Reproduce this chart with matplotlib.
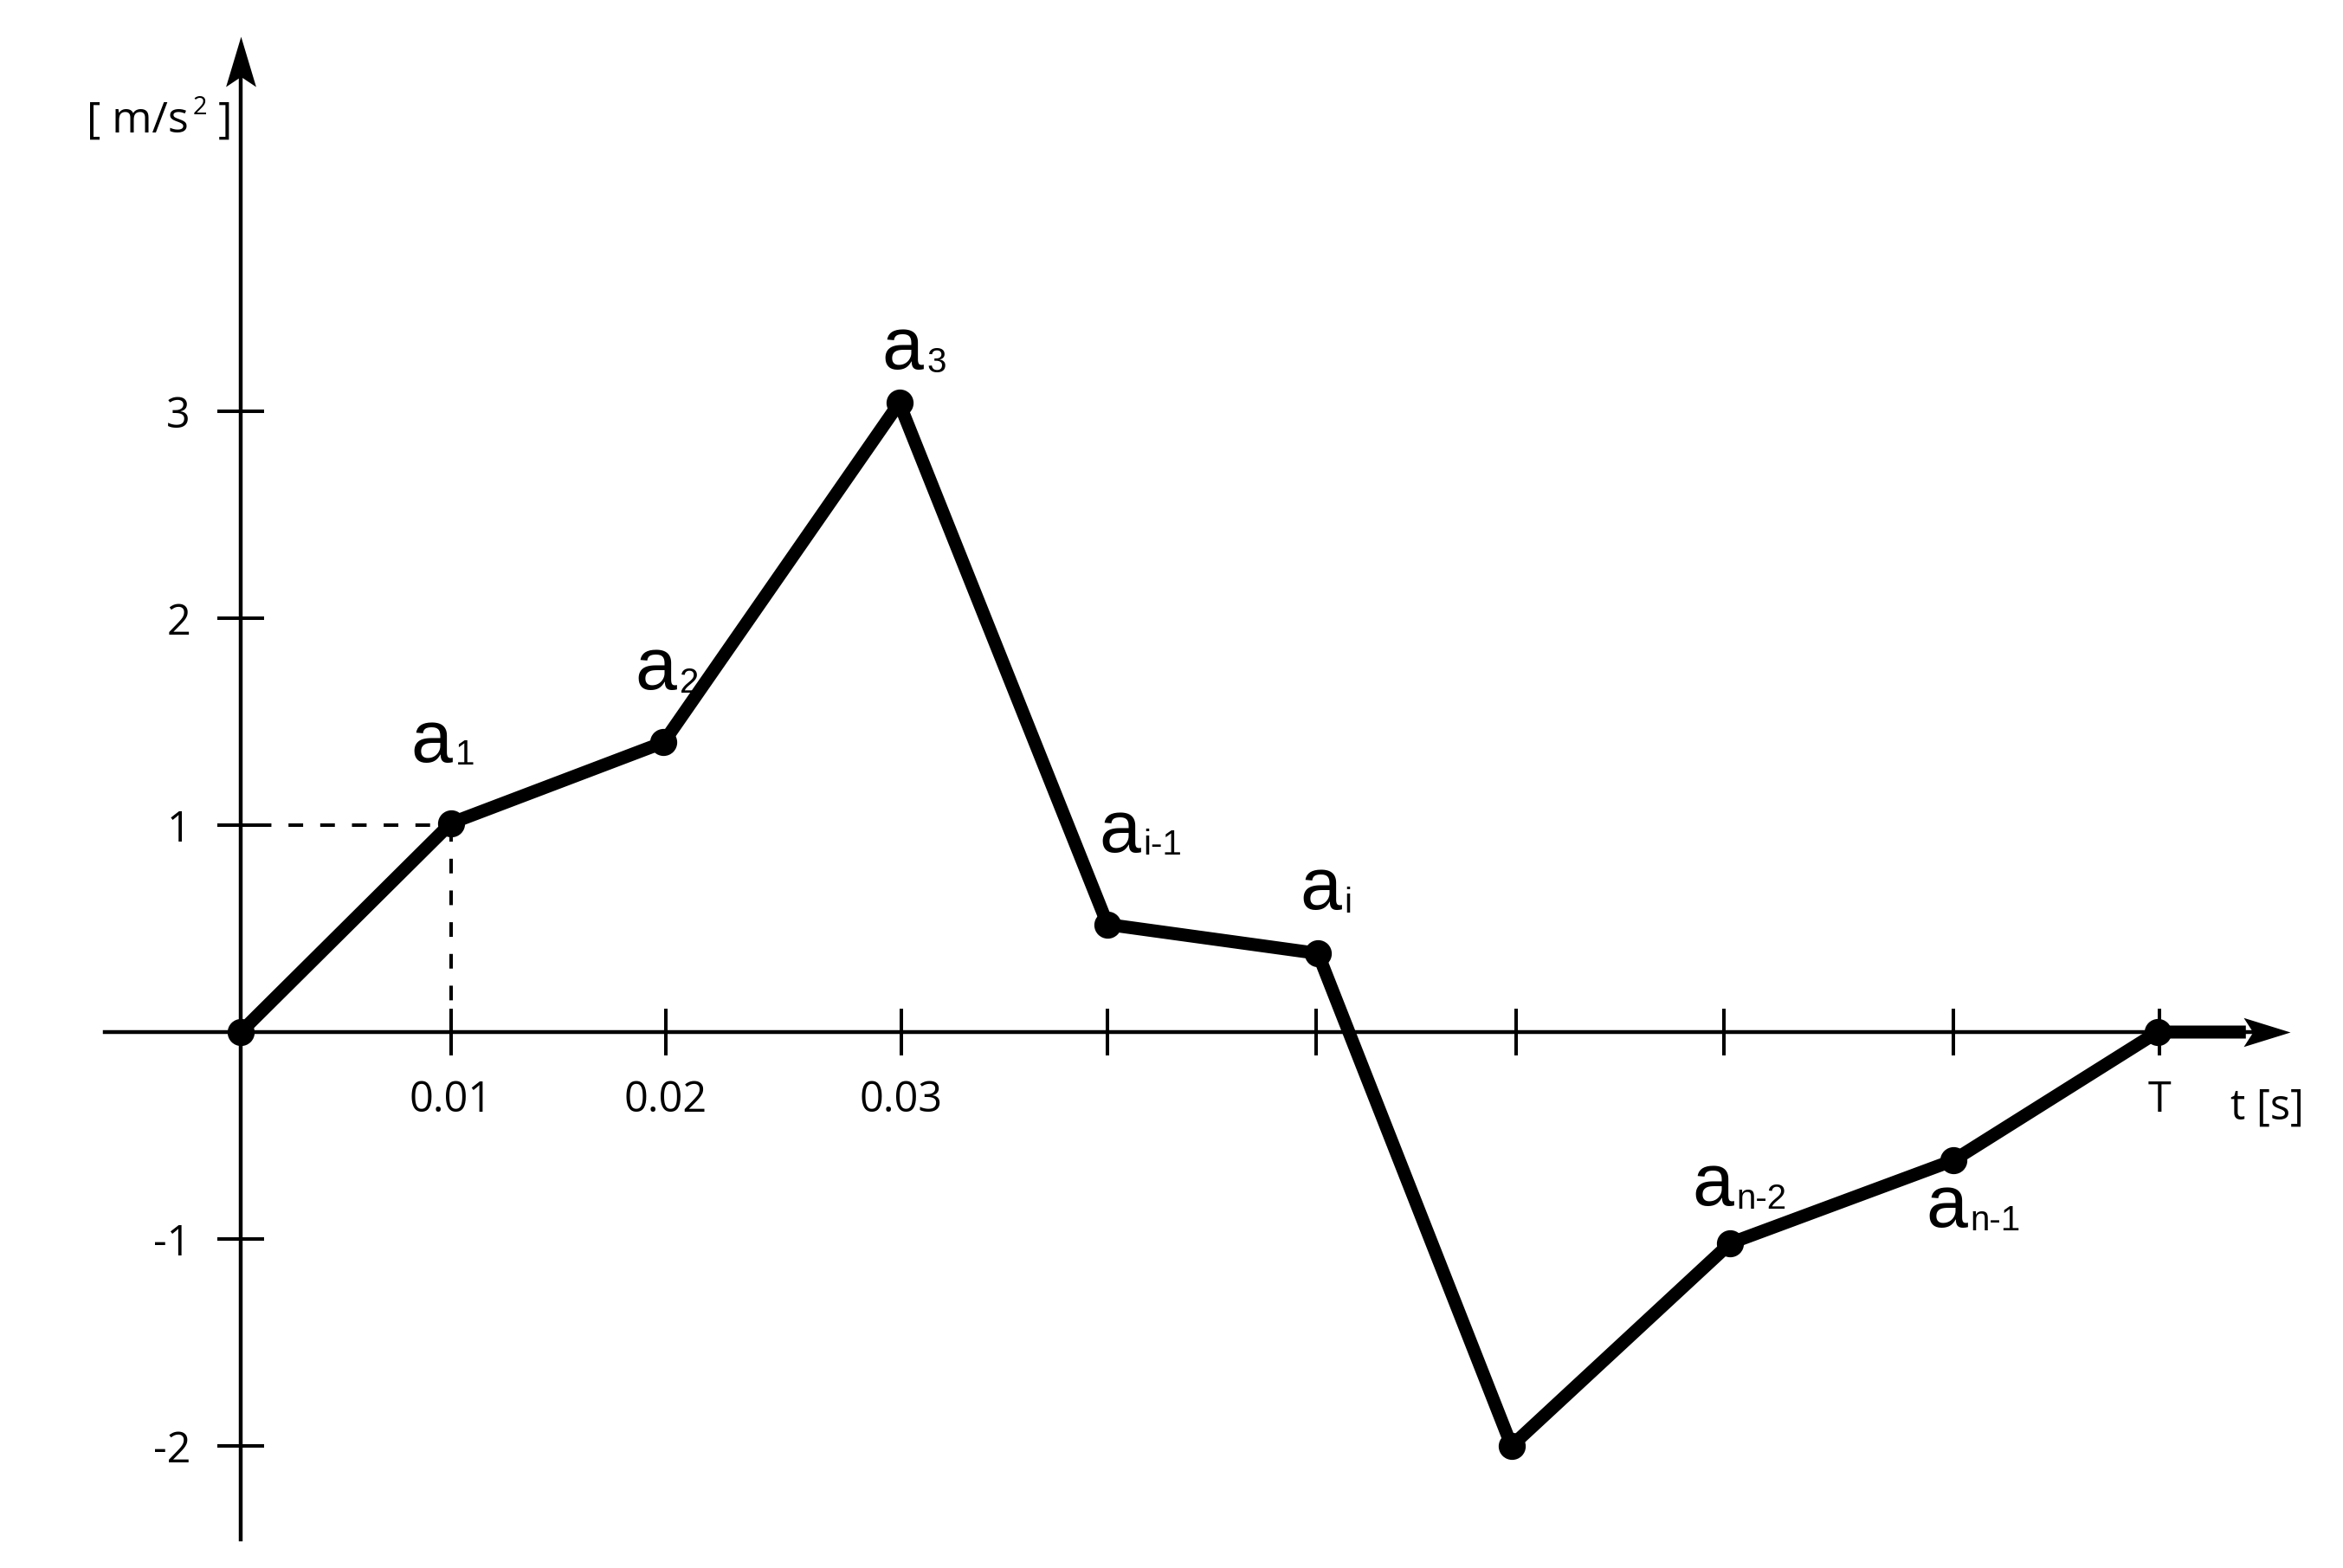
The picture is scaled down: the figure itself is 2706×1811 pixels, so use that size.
import matplotlib.pyplot as plt
from matplotlib.path import Path

# acceleration record (time in s, acceleration in m/s^2)
t = [0.0, 0.0100, 0.0201, 0.0313, 0.0412, 0.0512, 0.0604, 0.0708, 0.0814, 0.0911]
acc = [0.0, 1.01, 1.40, 3.04, 0.52, 0.38, -2.00, -1.02, -0.62, 0.0]
t_after = 0.0953  # the curve stays on zero after T, up to the arrow

# the ticks are hand spaced in the drawing
xtick_pos = [0.0100, 0.0202, 0.0314, 0.0412, 0.0511, 0.0606, 0.0705, 0.0814, 0.0912]
xtick_lab = ['0.01', '0.02', '0.03', '', '', '', '', '', 'T']
ytick_pos = [-2, -1, 1, 2, 3]
ytick_lab = ['-2', '-1', '1', '2', '3']

# named samples and the subscript of each name
label_idx = [1, 2, 3, 4, 5, 7, 8]
label_sub = ['1', '2', '3', 'i-1', 'i', 'n-2', 'n-1']
# offset of each name from its point, in points
label_off = [(-33.8, 50.9), (-23.8, 43.9), (-14.4, 28.1), (-7.2, 60.5),
             (-15.1, 36.7), (-31.7, 31.3), (-22.8, -55.4)]

plt.rcParams['font.family'] = ['Open Sans', 'Liberation Sans', 'DejaVu Sans']
sans = ['Liberation Sans', 'DejaVu Sans']

fig = plt.figure(figsize=(27.06, 18.11), dpi=100)
ax = fig.add_axes([0, 0, 1, 1])
ax.set_xlim(-278 / 24300, (2706 - 278) / 24300)
ax.set_ylim((1192 - 1811) / 239, 1192 / 239)

# axes through the origin
for side in ['top', 'right']:
    ax.spines[side].set_visible(False)
ax.spines['left'].set_position(('data', 0))
ax.spines['bottom'].set_position(('data', 0))
ax.spines['left'].set_bounds(-2.452, 4.7)
ax.spines['bottom'].set_bounds(-0.00646, 0.0965)
for side in ['left', 'bottom']:
    ax.spines[side].set_linewidth(3.2)

ax.set_xticks(xtick_pos, xtick_lab)
ax.set_yticks(ytick_pos, ytick_lab)
ax.tick_params(direction='inout', length=38.9, width=2.9, labelsize=35)
ax.tick_params(axis='y', pad=22.3)
ax.tick_params(axis='x', pad=19.5)

# arrow heads of the axes
up_head = Path([(0, 0), (-0.3, -1), (0, -0.8), (0.3, -1), (0, 0)],
               [Path.MOVETO, Path.LINETO, Path.LINETO, Path.LINETO, Path.CLOSEPOLY])
right_head = Path([(0, 0), (-1, 0.31), (-0.8, 0), (-1, -0.31), (0, 0)],
                  [Path.MOVETO, Path.LINETO, Path.LINETO, Path.LINETO, Path.CLOSEPOLY])
ax.plot([0], [4.812], marker=up_head, ms=83.5, color='black', mew=0, clip_on=False)
ax.plot([0.09741], [0], marker=right_head, ms=77.8, color='black', mew=0, clip_on=False)

# dashed guides to the first sample
ax.plot([0, t[1]], [1, 1], color='black', lw=2.9, ls=(4.5, (4.2, 4.9)))
ax.plot([t[1], t[1]], [0, 1], color='black', lw=2.9, ls=(0, (4.2, 4.9)))

# the record
ax.plot(t + [t_after], acc + [0], color='black', lw=10.8, solid_joinstyle='round',
        solid_capstyle='butt', zorder=3)
ax.plot(t, acc, 'o', color='black', ms=21.5, zorder=4)

for i, sub, (dx, dy) in zip(label_idx, label_sub, label_off):
    ax.annotate('a', (t[i], acc[i]), xytext=(dx, dy), textcoords='offset points',
                ha='left', va='baseline', fontsize=62, family=sans)
    ax.annotate(sub, (t[i], acc[i]), xytext=(dx + 37, dy - 2.5), textcoords='offset points',
                ha='left', va='baseline', fontsize=29, family=sans)

# axis names
ax.text(-0.00733, 4.347, '[ m/s', fontsize=36, ha='left', va='baseline')
ax.text(-0.00226, 4.435, '2', fontsize=21, ha='left', va='baseline')
ax.text(-0.00107, 4.347, ']', fontsize=36, ha='left', va='baseline')
ax.text(0.09457, -0.4226, 't [s]', fontsize=35, ha='left', va='baseline')

fig.savefig('out.png', dpi=100, facecolor='white')
